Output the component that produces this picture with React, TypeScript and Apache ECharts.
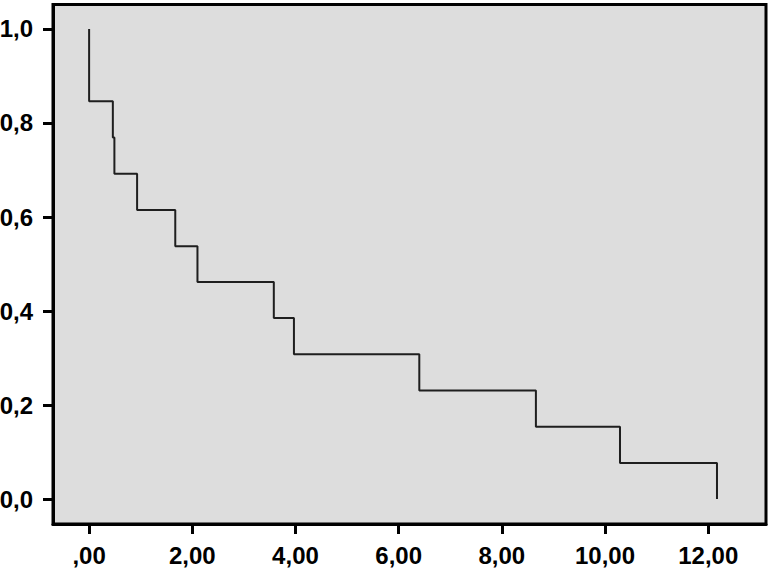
import React, { useEffect, useRef } from "react";
import * as echarts from "echarts";

const times = [0, 0, 0.46, 0.49, 0.93, 1.67, 2.1, 3.58, 3.97, 6.4, 8.66, 10.29, 12.17];
const survival = [1.0, 0.846, 0.769, 0.692, 0.615, 0.538, 0.462, 0.385, 0.308, 0.231, 0.154, 0.077, 0.0];
const xTicks = [0, 2, 4, 6, 8, 10, 12];
const yTicks = [0, 0.2, 0.4, 0.6, 0.8, 1.0];

const fmtX = (v: number) => {
  const s = v.toFixed(2).replace(".", ",");
  return s.startsWith("0,") ? s.slice(1) : s;
};
const fmtY = (v: number) => v.toFixed(1).replace(".", ",");

export default function App() {
  const ref = useRef<HTMLDivElement>(null);
  useEffect(() => {
    if (!ref.current) return;
    const chart = echarts.init(ref.current, undefined, { renderer: "svg" });
    const labelStyle = {
      color: "#000",
      fontSize: 24,
      fontWeight: "bold" as const,
      fontFamily: "Liberation Sans, Arial, sans-serif",
    };
    chart.setOption({
      animation: false,
      backgroundColor: "#ffffff",
      grid: {
        left: 53,
        right: 8,
        top: 4.5,
        bottom: 47,
        outerBoundsMode: "none",
        containLabel: false,
        show: true,
        backgroundColor: "#dddddd",
        borderColor: "#000",
        borderWidth: 3,
      },
      xAxis: {
        type: "value",
        min: -0.7,
        max: 13.12,
        splitLine: { show: false },
        axisLine: { show: true, onZero: false, lineStyle: { color: "#000", width: 3 } },
        axisTick: {
          show: true,
          length: 10,
          customValues: xTicks,
          lineStyle: { color: "#000", width: 3 },
        },
        axisLabel: {
          ...labelStyle,
          margin: 19,
          customValues: xTicks,
          formatter: (v: number) => fmtX(v),
        },
      },
      yAxis: {
        type: "value",
        min: -0.053,
        max: 1.052,
        splitLine: { show: false },
        axisLine: { show: true, onZero: false, lineStyle: { color: "#000", width: 3 } },
        axisTick: {
          show: true,
          length: 10,
          customValues: yTicks,
          lineStyle: { color: "#000", width: 3 },
        },
        axisLabel: {
          ...labelStyle,
          margin: 20,
          customValues: yTicks,
          formatter: (v: number) => fmtY(v),
        },
      },
      series: [
        {
          type: "line",
          step: "end",
          symbol: "none",
          data: times.map((t, i) => [t, survival[i]]),
          lineStyle: { color: "#1e1e1e", width: 2 },
        },
      ],
    });
    return () => chart.dispose();
  }, []);
  return (
    <div
      ref={ref}
      style={{ position: "fixed", left: 0, top: 0, width: 774, height: 571 }}
    />
  );
}
